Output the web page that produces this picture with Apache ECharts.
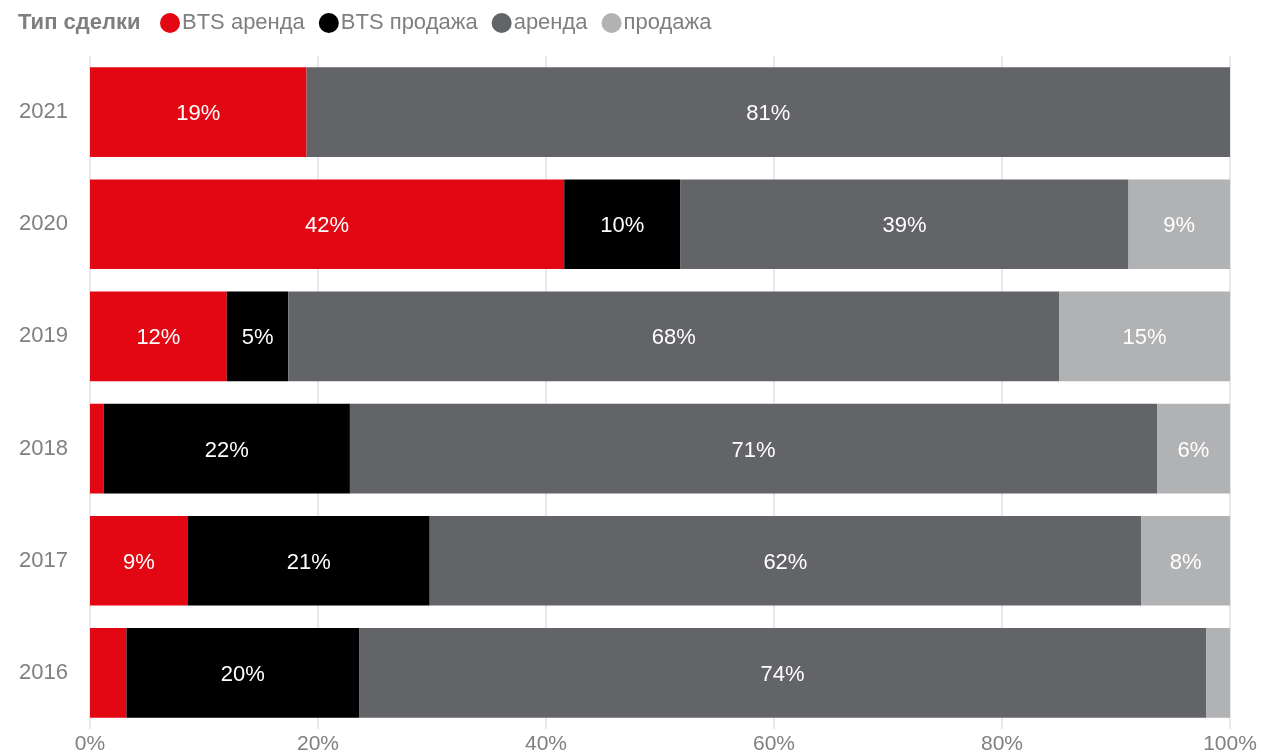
<!DOCTYPE html>
<html>
<head>
<meta charset="utf-8">
<script src="https://cdn.jsdelivr.net/npm/echarts@6/dist/echarts.min.js"></script>
<style>
  html, body { margin: 0; padding: 0; background: #fff; }
  #chart { width: 1261px; height: 755px; }
</style>
</head>
<body>
<div id="chart"></div>
<script>
var years = ['2016', '2017', '2018', '2019', '2020', '2021']
var btsRent = [3.2, 8.6, 1.2, 12.0, 41.6, 19.0]
var btsSale = [20.4, 21.2, 21.6, 5.4, 10.2, 0]
var rent = [74.3, 62.4, 70.8, 67.6, 39.3, 81.0]
var sale = [2.1, 7.8, 6.4, 15.0, 8.9, 0]
var xTicks = [0, 20, 40, 60, 80, 100]

var font = '"Liberation Sans", Arial, sans-serif'

function makeSeries(name, data, color) {
  return {
    name: name,
    type: 'bar',
    stack: 'total',
    barCategoryGap: '20%',
    data: data,
    itemStyle: { color: color },
    label: {
      show: true,
      position: 'inside',
      offset: [0, 2],
      color: '#fff',
      fontSize: 22,
      fontFamily: font,
      formatter: function(p) {
        // small pieces have no label
        if (p.value < 4) return ''
        return Math.round(p.value) + '%'
      }
    }
  }
}

var chart = echarts.init(document.getElementById('chart'))
chart.setOption({
  animation: false,
  textStyle: { fontFamily: font },
  grid: { left: 90, right: 31, top: 56, bottom: 21, containLabel: false },
  graphic: [{
    type: 'text',
    left: 18,
    top: 12,
    style: { text: 'Тип сделки', fill: '#7f7f7f', font: 'bold 22px ' + font }
  }],
  legend: {
    left: 160,
    top: 12,
    padding: 0,
    icon: 'circle',
    itemWidth: 20,
    itemHeight: 20,
    itemGap: 14,
    textStyle: { color: '#7f7f7f', fontSize: 22, fontFamily: font, padding: [0, 0, 0, -3] },
    data: ['BTS аренда', 'BTS продажа', 'аренда', 'продажа']
  },
  xAxis: {
    type: 'value',
    min: 0,
    max: 100,
    interval: 20,
    axisLine: { show: false },
    axisTick: { show: false },
    splitLine: { lineStyle: { color: '#e8e8e8', width: 2 } },
    axisLabel: {
      color: '#808080',
      fontSize: 21,
      margin: 5,
      formatter: function(v) { return xTicks.indexOf(v) >= 0 ? v + '%' : '' }
    }
  },
  yAxis: {
    type: 'category',
    data: years,
    axisLine: { show: false },
    axisTick: { show: false },
    axisLabel: { color: '#808080', fontSize: 22, margin: 22, padding: [5, 0, 0, 0] }
  },
  series: [
    makeSeries('BTS аренда', btsRent, '#e30613'),
    makeSeries('BTS продажа', btsSale, '#000000'),
    makeSeries('аренда', rent, '#636468'),
    makeSeries('продажа', sale, '#b1b2b4')
  ]
})
</script>
</body>
</html>
